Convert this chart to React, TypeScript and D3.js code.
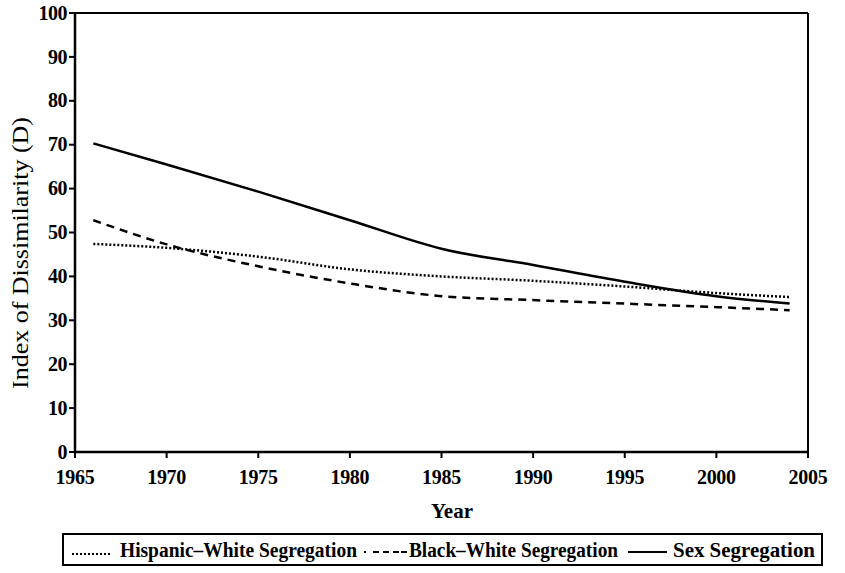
import React from "react";
import * as d3 from "d3";

const years = [1966, 1970, 1975, 1980, 1985, 1990, 1995, 2000, 2004];
const hispanicWhite = [47.4, 46.5, 44.5, 41.6, 40.0, 39.0, 37.7, 36.2, 35.3];
const blackWhite = [52.8, 47.3, 42.3, 38.4, 35.5, 34.6, 33.8, 33.0, 32.3];
const sexSeg = [70.3, 65.5, 59.3, 52.8, 46.3, 42.6, 38.8, 35.5, 33.8];
const xTicks = [1965, 1970, 1975, 1980, 1985, 1990, 1995, 2000, 2005];
const yTicks = [0, 10, 20, 30, 40, 50, 60, 70, 80, 90, 100];
const seriesNames = ["Hispanic–White Segregation", "Black–White Segregation", "Sex Segregation"];

const W = 845, H = 573;
const FONT = "'Liberation Serif', 'DejaVu Serif', serif";

export default function App() {
  const x = d3.scaleLinear().domain([1965, 2005]).range([75, 808]);
  const y = d3.scaleLinear().domain([0, 100]).range([452, 13]);
  const line = d3.line<[number, number]>().x(d => x(d[0])).y(d => y(d[1])).curve(d3.curveMonotoneX);
  const mk = (vals: number[]) => line(years.map((yr, i) => [yr, vals[i]] as [number, number])) || "";

  return (
    <div style={{ position: "absolute", left: 0, top: 0 }}>
      <svg width={W} height={H} style={{ display: "block", background: "#fff" }}>
        {/* frame */}
        <line x1={x(1965)} x2={x(2005)} y1={y(100)} y2={y(100)} stroke="#000" strokeWidth={2} />
        <line x1={x(2005)} x2={x(2005)} y1={y(100)} y2={y(0)} stroke="#000" strokeWidth={2} />
        {/* axes */}
        <line x1={x(1965)} x2={x(1965)} y1={y(100)} y2={y(0)} stroke="#000" strokeWidth={2.5} />
        <line x1={x(1965)} x2={x(2005)} y1={y(0)} y2={y(0)} stroke="#000" strokeWidth={2.5} />
        {yTicks.map(t => (
          <g key={"y" + t}>
            <line x1={x(1965) - 6} x2={x(1965)} y1={y(t)} y2={y(t)} stroke="#000" strokeWidth={2} />
            <text x={67} y={y(t)} dy="0.33em" textAnchor="end" fontFamily={FONT} fontWeight="bold" fontSize={20} letterSpacing={-0.5}>{t}</text>
          </g>
        ))}
        {xTicks.map(t => (
          <g key={"x" + t}>
            <line x1={x(t)} x2={x(t)} y1={y(0)} y2={y(0) + 6} stroke="#000" strokeWidth={2} />
            <text x={x(t)} y={484} textAnchor="middle" fontFamily={FONT} fontWeight="bold" fontSize={20} letterSpacing={-0.3}>{t}</text>
          </g>
        ))}
        <text x={452} y={518} textAnchor="middle" fontFamily={FONT} fontWeight="bold" fontSize={21}>Year</text>
        <text transform={`translate(28,253) rotate(-90)`} textAnchor="middle" fontFamily={FONT} fontSize={24}
          textLength={272} lengthAdjust="spacingAndGlyphs">Index of Dissimilarity (D)</text>

        {/* lines */}
        <path d={mk(hispanicWhite)} fill="none" stroke="#000" strokeWidth={2.5} strokeDasharray="2,2" />
        <path d={mk(blackWhite)} fill="none" stroke="#000" strokeWidth={2.5} strokeDasharray="8,6" />
        <path d={mk(sexSeg)} fill="none" stroke="#000" strokeWidth={2.5} />

        {/* legend */}
        <rect x={63} y={534} width={759} height={31} fill="none" stroke="#000" strokeWidth={2} />
        <line x1={72} x2={110} y1={554} y2={554} stroke="#000" strokeWidth={2} strokeDasharray="2,2" />
        <text x={120} y={557} fontFamily={FONT} fontWeight="bold" fontSize={20} textLength={237} lengthAdjust="spacingAndGlyphs">{seriesNames[0]}</text>
        <line x1={364} x2={407} y1={552} y2={552} stroke="#000" strokeWidth={2} strokeDasharray="2,7,6,4,6,4,6" />
        <text x={409} y={557} fontFamily={FONT} fontWeight="bold" fontSize={20} textLength={209} lengthAdjust="spacingAndGlyphs">{seriesNames[1]}</text>
        <line x1={628} x2={667} y1={552} y2={552} stroke="#000" strokeWidth={2} />
        <text x={673} y={557} fontFamily={FONT} fontWeight="bold" fontSize={20} textLength={142} lengthAdjust="spacingAndGlyphs">{seriesNames[2]}</text>
      </svg>
    </div>
  );
}
